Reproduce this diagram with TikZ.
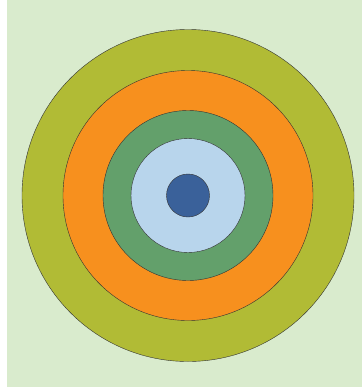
\documentclass[tikz,border=0pt]{standalone}
\definecolor{fondo}{HTML}{D9EBCD}
\definecolor{oliva}{HTML}{B1BB35}
\definecolor{naranja}{HTML}{F7901E}
\definecolor{verde}{HTML}{63A06B}
\definecolor{celeste}{HTML}{B8D5EC}
\definecolor{azul}{HTML}{3A619A}
\begin{document}
\begin{tikzpicture}[x=1pt, y=-1pt]

 % --- MARCO ---
 \useasboundingbox (0,0) rectangle (362,389);
 \fill[fondo] (7,0) rectangle (362,387);

 % --- ANILLOS CONCÉNTRICOS ---
 % \filldraw[color] (centro) circle (radio);
 \coordinate (centro) at (188,195.5);
 \filldraw[fill=oliva, draw=black!80, thin] (centro) circle (166);
 \filldraw[fill=naranja, draw=black!80, thin] (centro) circle (125);
 \filldraw[fill=verde, draw=black!80, thin] (centro) circle (85);
 \filldraw[fill=celeste, draw=black!80, thin] (centro) circle (57);

 % Centro (diana)
 \filldraw[fill=azul, draw=black!80, thin] (centro) circle (21.5);

\end{tikzpicture}
\end{document}
